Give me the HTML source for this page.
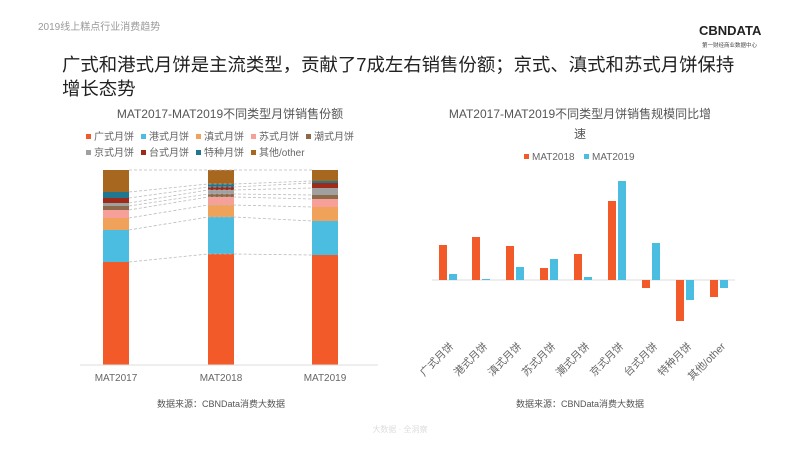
<!DOCTYPE html>
<html><head><meta charset="utf-8"><style>
body{margin:0;width:800px;height:450px;background:#fff;overflow:hidden;font-family:"Liberation Sans","Noto Sans CJK SC",sans-serif;}
</style></head><body>
<svg width="800" height="450" xmlns="http://www.w3.org/2000/svg" font-family="Liberation Sans, Noto Sans CJK SC, sans-serif">
<text x="38" y="30" font-size="10" fill="#999">2019线上糕点行业消费趋势</text>
<text x="699" y="35" font-size="13" font-weight="bold" fill="#222">CBNDATA</text>
<text x="702" y="47" font-size="5.5" fill="#444">第一财经商业数据中心</text>
<text x="62" y="71" font-size="18.4" fill="#222">广式和港式月饼是主流类型，贡献了7成左右销售份额；京式、滇式和苏式月饼保持</text>
<text x="62" y="95" font-size="18.4" fill="#222">增长态势</text>

<!-- left chart -->
<text x="230" y="118" font-size="12" fill="#555" text-anchor="middle">MAT2017-MAT2019不同类型月饼销售份额</text>
<g font-size="10" fill="#666">
<rect x="86" y="134" width="5" height="5" fill="#f25a2a"/><text x="94" y="140">广式月饼</text>
<rect x="141" y="134" width="5" height="5" fill="#4bbde0"/><text x="149" y="140">港式月饼</text>
<rect x="196" y="134" width="5" height="5" fill="#f0a25a"/><text x="204" y="140">滇式月饼</text>
<rect x="251" y="134" width="5" height="5" fill="#f7a09a"/><text x="259" y="140">苏式月饼</text>
<rect x="306" y="134" width="5" height="5" fill="#8d6b4a"/><text x="314" y="140">潮式月饼</text>
<rect x="86" y="150" width="5" height="5" fill="#a0a0a0"/><text x="94" y="156">京式月饼</text>
<rect x="141" y="150" width="5" height="5" fill="#a02a1a"/><text x="149" y="156">台式月饼</text>
<rect x="196" y="150" width="5" height="5" fill="#1f7890"/><text x="204" y="156">特种月饼</text>
<rect x="251" y="150" width="5" height="5" fill="#a8671e"/><text x="259" y="156">其他/other</text>
</g>
<g>
<rect x="103" y="262" width="26" height="103" fill="#f25a2a"/>
<rect x="103" y="230" width="26" height="32" fill="#4bbde0"/>
<rect x="103" y="218" width="26" height="12" fill="#f0a25a"/>
<rect x="103" y="210" width="26" height="8" fill="#f7a09a"/>
<rect x="103" y="206" width="26" height="4" fill="#8d6b4a"/>
<rect x="103" y="203" width="26" height="3" fill="#a0a0a0"/>
<rect x="103" y="198" width="26" height="5" fill="#a02a1a"/>
<rect x="103" y="192" width="26" height="6" fill="#1f7890"/>
<rect x="103" y="170" width="26" height="22" fill="#a8671e"/>
<rect x="208" y="254" width="26" height="111" fill="#f25a2a"/>
<rect x="208" y="217" width="26" height="37" fill="#4bbde0"/>
<rect x="208" y="205" width="26" height="12" fill="#f0a25a"/>
<rect x="208" y="197" width="26" height="8" fill="#f7a09a"/>
<rect x="208" y="194" width="26" height="3" fill="#8d6b4a"/>
<rect x="208" y="190" width="26" height="4" fill="#a0a0a0"/>
<rect x="208" y="187" width="26" height="3" fill="#a02a1a"/>
<rect x="208" y="184" width="26" height="3" fill="#1f7890"/>
<rect x="208" y="170" width="26" height="14" fill="#a8671e"/>
<rect x="312" y="255" width="26" height="110" fill="#f25a2a"/>
<rect x="312" y="221" width="26" height="34" fill="#4bbde0"/>
<rect x="312" y="207" width="26" height="14" fill="#f0a25a"/>
<rect x="312" y="199" width="26" height="8" fill="#f7a09a"/>
<rect x="312" y="195" width="26" height="4" fill="#8d6b4a"/>
<rect x="312" y="188" width="26" height="7" fill="#a0a0a0"/>
<rect x="312" y="183" width="26" height="5" fill="#a02a1a"/>
<rect x="312" y="181" width="26" height="2" fill="#1f7890"/>
<rect x="312" y="170" width="26" height="11" fill="#a8671e"/>
</g>
<g stroke="#bbb" stroke-width="0.8" stroke-dasharray="3,2" fill="none">
<polyline points="129,262 208,254 234,254 312,255"/>
<polyline points="129,230 208,217 234,217 312,221"/>
<polyline points="129,218 208,205 234,205 312,207"/>
<polyline points="129,210 208,197 234,197 312,199"/>
<polyline points="129,206 208,194 234,194 312,195"/>
<polyline points="129,203 208,190 234,190 312,188"/>
<polyline points="129,198 208,187 234,187 312,183"/>
<polyline points="129,192 208,184 234,184 312,181"/>
<polyline points="129,170 208,170 234,170 312,170"/>
</g>
<line x1="80" y1="365" x2="378" y2="365" stroke="#ddd"/>
<g font-size="10" fill="#666" text-anchor="middle">
<text x="116" y="381">MAT2017</text><text x="221" y="381">MAT2018</text><text x="325" y="381">MAT2019</text>
</g>
<text x="221" y="407" font-size="9" fill="#555" text-anchor="middle">数据来源：CBNData消费大数据</text>

<!-- right chart -->
<text x="580" y="118" font-size="12" fill="#555" text-anchor="middle">MAT2017-MAT2019不同类型月饼销售规模同比增</text>
<text x="580" y="138" font-size="12" fill="#555" text-anchor="middle">速</text>
<g font-size="10" fill="#666">
<rect x="524" y="154" width="5" height="5" fill="#f25a2a"/><text x="532" y="160">MAT2018</text>
<rect x="584" y="154" width="5" height="5" fill="#4bbde0"/><text x="592" y="160">MAT2019</text>
</g>
<line x1="432" y1="280" x2="735" y2="280" stroke="#ddd"/>
<g fill="#f25a2a">
<rect x="439" y="245" width="8" height="35"/>
<rect x="472" y="237" width="8" height="43"/>
<rect x="506" y="246" width="8" height="34"/>
<rect x="540" y="268" width="8" height="12"/>
<rect x="574" y="254" width="8" height="26"/>
<rect x="608" y="201" width="8" height="79"/>
<rect x="642" y="280" width="8" height="8"/>
<rect x="676" y="280" width="8" height="41"/>
<rect x="710" y="280" width="8" height="17"/>
</g>
<g fill="#4bbde0">
<rect x="449" y="274" width="8" height="6"/>
<rect x="482" y="279" width="8" height="1"/>
<rect x="516" y="267" width="8" height="13"/>
<rect x="550" y="259" width="8" height="21"/>
<rect x="584" y="277" width="8" height="3"/>
<rect x="618" y="181" width="8" height="99"/>
<rect x="652" y="243" width="8" height="37"/>
<rect x="686" y="280" width="8" height="20"/>
<rect x="720" y="280" width="8" height="8"/>
</g>
<g font-size="10.5" fill="#666" text-anchor="end">
<text transform="translate(454,347) rotate(-45)">广式月饼</text>
<text transform="translate(488,347) rotate(-45)">港式月饼</text>
<text transform="translate(522,347) rotate(-45)">滇式月饼</text>
<text transform="translate(556,347) rotate(-45)">苏式月饼</text>
<text transform="translate(590,347) rotate(-45)">潮式月饼</text>
<text transform="translate(624,347) rotate(-45)">京式月饼</text>
<text transform="translate(658,347) rotate(-45)">台式月饼</text>
<text transform="translate(692,347) rotate(-45)">特种月饼</text>
<text transform="translate(726,347) rotate(-45)">其他/other</text>
</g>
<text x="580" y="407" font-size="9" fill="#555" text-anchor="middle">数据来源：CBNData消费大数据</text>
<text x="400" y="432" font-size="8" fill="#ddd" text-anchor="middle">大数据 · 全洞察</text>
</svg>
</body></html>
